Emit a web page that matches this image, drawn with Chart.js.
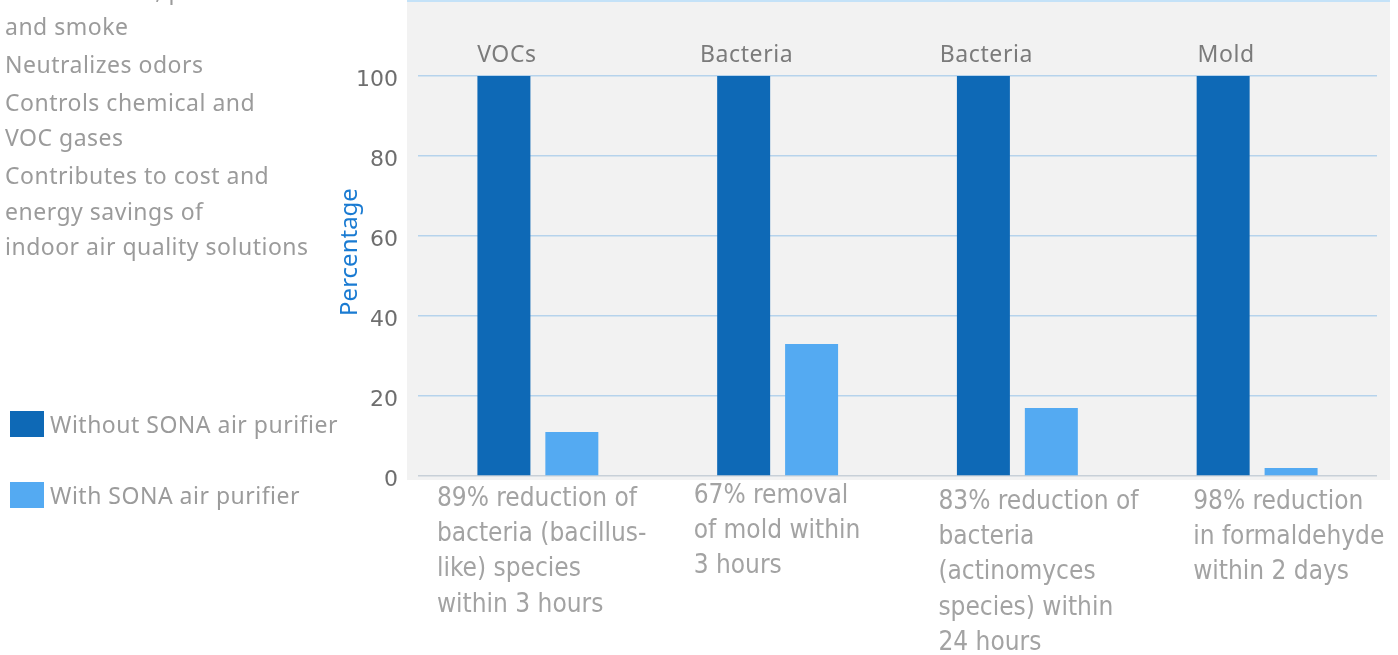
<!DOCTYPE html>
<html><head><meta charset="utf-8">
<script src="https://cdn.jsdelivr.net/npm/chart.js@4.4.1/dist/chart.umd.min.js"></script>
<style>
html,body{margin:0;padding:0;width:1398px;height:655px;overflow:hidden;background:#fff;}
#wrap{position:relative;width:1398px;height:655px;overflow:hidden;}
canvas{position:absolute;left:0;top:0;}
.side{position:absolute;left:5px;top:-27px;font-family:'Noto Sans',sans-serif;font-size:23px;letter-spacing:0.5px;color:#9b9b9b;line-height:35.5px;z-index:2;}
.side div{margin-bottom:2.5px;}
.leg{position:absolute;left:10px;font-family:'Noto Sans',sans-serif;font-size:23px;letter-spacing:0.5px;color:#9b9b9b;display:flex;align-items:center;z-index:2;height:30px;}
.sw{width:34px;height:26px;margin-right:6px;flex:none;}
</style>
</head><body>
<div id="wrap">
<div class="side">
<div>Reduces dust, pollen<br>and smoke</div>
<div>Neutralizes odors</div>
<div>Controls chemical and<br>VOC gases</div>
<div>Contributes to cost and<br>energy savings of<br>indoor air quality solutions</div>
</div>
<div class="leg" style="top:409px"><span class="sw" style="background:#0e69b6"></span><span>Without SONA air purifier</span></div>
<div class="leg" style="top:480px"><span class="sw" style="background:#54aaf2"></span><span>With SONA air purifier</span></div>
<canvas id="c" width="1398" height="655"></canvas>
</div>
<script>
const topLabels = ["VOCs", "Bacteria", "Bacteria", "Mold"];
const descriptions = [
  ["89% reduction of", "bacteria (bacillus-", "like) species", "within 3 hours"],
  ["67% removal", "of mold within", "3 hours"],
  ["83% reduction of", "bacteria", "(actinomyces", "species) within", "24 hours"],
  ["98% reduction", "in formaldehyde", "within 2 days"]
];
const withoutSona = [100, 100, 100, 100];
const withSona = [11, 33, 17, 2];
const yTicks = [0, 20, 40, 60, 80, 100];
const yTitle = 'Percentage';

const descStyle = [
  {dx: -101, y: 499},
  {dx: -84, y: 496},
  {dx: -79, y: 502},
  {dx: -64, y: 502}
];

const decor = {
  id: 'decor',
  beforeDraw(chart) {
    const {ctx, chartArea: a} = chart;
    ctx.save();
    ctx.fillStyle = '#f2f2f2';
    ctx.fillRect(a.left - 11, 0, a.right - a.left + 24, a.bottom + 4);
    ctx.fillStyle = '#c4e2f8';
    ctx.fillRect(a.left - 11, 0, a.right - a.left + 24, 2);
    ctx.restore();
  },
  afterDraw(chart) {
    const {ctx, chartArea: a} = chart;
    const meta = chart.getDatasetMeta(0);
    const xs = chart.scales.x;
    ctx.save();
    ctx.fillStyle = '#7b7b7b';
    ctx.font = '23px "Noto Sans"';
    ctx.letterSpacing = '0.6px';
    ctx.textAlign = 'center';
    ctx.textBaseline = 'middle';
    topLabels.forEach((t, i) => {
      ctx.fillText(t, meta.data[i].x + 3, a.top - 21);
    });
    ctx.save();
    ctx.translate(350, 252);
    ctx.rotate(-Math.PI / 2);
    ctx.fillStyle = '#1a7bd2';
    ctx.font = '24px "Noto Sans"';
    ctx.letterSpacing = '0px';
    ctx.fillText(yTitle, 0, 0);
    ctx.restore();
    ctx.fillStyle = '#a3a3a3';
    ctx.font = '26px "DejaVu Sans Condensed"';
    ctx.letterSpacing = '0px';
    ctx.textAlign = 'left';
    descriptions.forEach((lines, i) => {
      const st = descStyle[i];
      const x = xs.getPixelForValue(i) + st.dx;
      lines.forEach((ln, j) => ctx.fillText(ln, x, st.y + j * 35.3));
    });
    ctx.restore();
  }
};

new Chart(document.getElementById('c'), {
  type: 'bar',
  data: {
    labels: topLabels,
    datasets: [
      {label: 'Without SONA air purifier', data: withoutSona, backgroundColor: '#0e69b6', categoryPercentage: 0.5667, barPercentage: 0.78},
      {label: 'With SONA air purifier', data: withSona, backgroundColor: '#54aaf2', categoryPercentage: 0.5667, barPercentage: 0.78}
    ]
  },
  options: {
    responsive: false,
    animation: false,
    devicePixelRatio: 1,
    layout: {padding: {left: 330, top: 76, right: 21, bottom: 0}},
    plugins: {legend: {display: false}, tooltip: {enabled: false}},
    scales: {
      x: {
        grid: {display: false},
        border: {display: false},
        ticks: {display: false},
        afterFit(s) { s.height = 179; }
      },
      y: {
        min: 0, max: 100,
        afterBuildTicks(s) { s.ticks = yTicks.map(v => ({value: v})); },
        ticks: {padding: 20, labelOffset: 4, color: '#6e6e6e', font: {family: 'DejaVu Sans', size: 22}},
        grid: {color: c => c.tick && c.tick.value === 0 ? '#c8d0d8' : '#b6d3ec', drawTicks: false, lineWidth: 1.5},
        border: {display: false},
        title: {display: false, text: yTitle},
        afterFit(s) { s.width = 88; }
      }
    }
  },
  plugins: [decor]
});
</script>
</body></html>
